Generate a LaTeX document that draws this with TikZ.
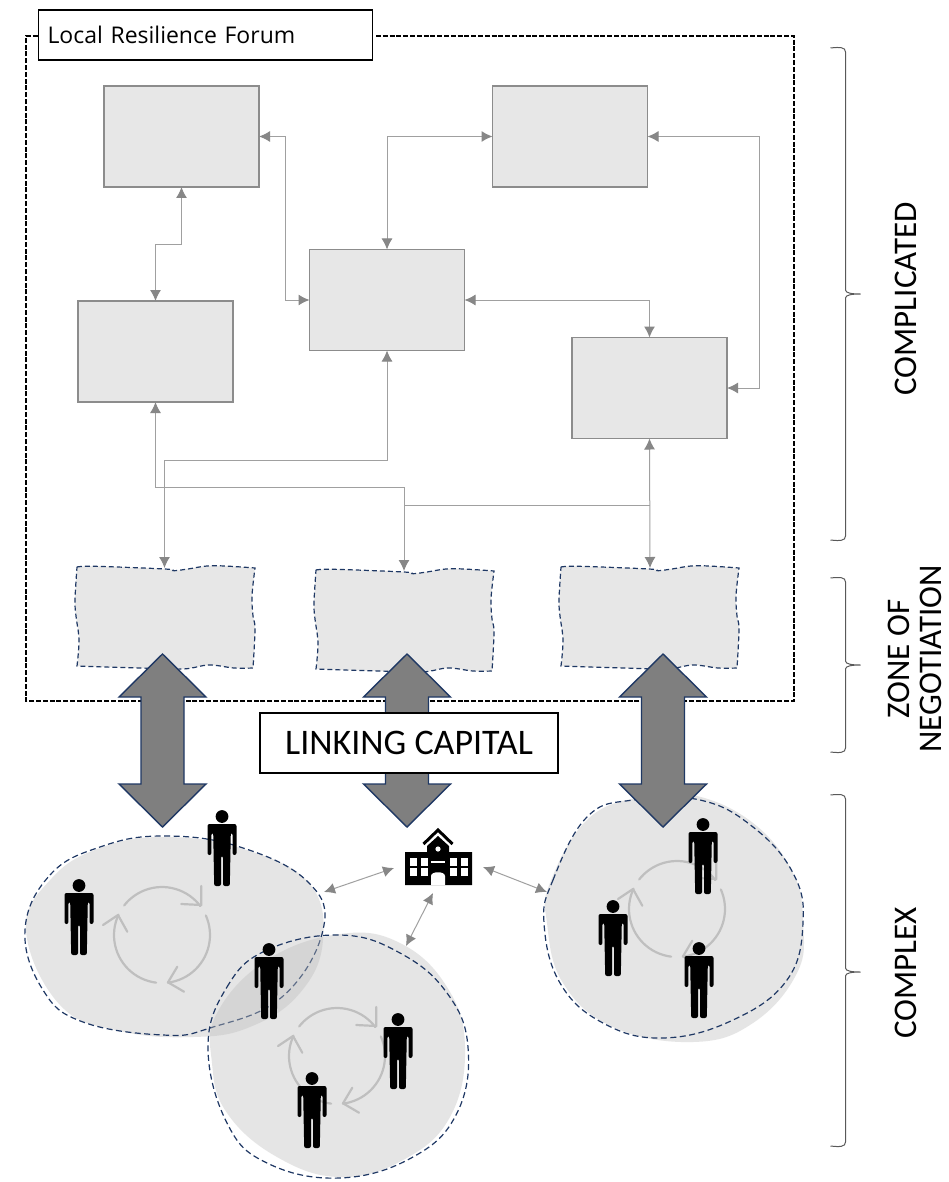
\documentclass[tikz,border=0pt]{standalone}
\usepackage{fontspec}
\setmainfont{Carlito}
\newfontfamily\lrffont{Open Sans}
\usetikzlibrary{arrows.meta}
\definecolor{boxfill}{HTML}{E7E7E7}
\definecolor{boxedge}{HTML}{8C8C8C}
\definecolor{navy}{HTML}{1F3864}
\definecolor{linegray}{HTML}{A0A0A0}
\definecolor{tipgray}{HTML}{878787}
\definecolor{bigarrow}{HTML}{7F7F7F}
\definecolor{cyclegray}{HTML}{BFBFBF}
\definecolor{braceline}{HTML}{595959}
\tikzset{
  x=1pt,y=-1pt,
  stagebox/.style={draw=boxedge,fill=boxfill,line width=1.5pt,inner sep=0pt,outer sep=0pt,minimum width=155pt,minimum height=101pt},
  ghost/.style={inner sep=0pt,outer sep=0pt,minimum width=178pt,minimum height=100pt},
  conn/.style={draw=linegray,line width=1pt,{Latex[length=11pt,width=11pt,color=tipgray]}-{Latex[length=11pt,width=11pt,color=tipgray]}},
  plain/.style={draw=linegray,line width=1pt},
  bluedash/.style={draw=navy,line width=1.2pt,dash pattern=on 6pt off 3.5pt},
  blobfill/.style={fill=cyclegray,fill opacity=.4},
  cyc/.style={draw=cyclegray,line width=2.2pt,line cap=round,line join=round},
  framedash/.style={draw=black,line width=1.2pt,dash pattern=on 5pt off 1.8pt},
  bracestyle/.style={draw=braceline,line width=1pt},
  person/.pic={
    \fill[black] (0,6.5) circle (6.4pt);
    \fill[black,rounded corners=2pt] (-14.5,14) -- (14.5,14) -- (14.5,45) -- (10.6,45) -- (10.6,23)
      -- (8.8,23) -- (7.8,76) -- (1,76) -- (1,46) -- (-1,46) -- (-1,76) -- (-7.8,76) -- (-8.8,23)
      -- (-10.6,23) -- (-10.6,45) -- (-14.5,45) -- cycle;
  },
  cycle arrows/.pic={
    \draw[cyc] plot[smooth,domain=142:37,samples=24] ({48*cos(\x)},{-48*sin(\x)});
    \draw[cyc] (39.3,-49) -- (39.3,-30) -- (19.3,-31);
    \draw[cyc] plot[smooth,domain=24:-83,samples=24] ({48*cos(\x)},{-48*sin(\x)});
    \draw[cyc] (22,56.7) -- (6,47.3) -- (15.3,31.7);
    \draw[cyc] plot[smooth,domain=-97:-205,samples=24] ({48*cos(\x)},{-48*sin(\x)});
    \draw[cyc] (-59,-10) -- (-44,-20) -- (-34.7,-3.3);
  },
  wave/.pic={
    \path[fill=boxfill] plot[smooth,tension=.6] coordinates {(0,0) (18,-.7) (88,2) (97,3.7) (111,2) (136,-1.3) (178,1)}
      -- plot[smooth,tension=.6] coordinates {(178,1) (175,29) (176,49) (178,62) (176,101)}
      -- plot[smooth,tension=.6] coordinates {(176,101) (157,101) (132,98) (106,102) (64,101) (28,100) (0,99)}
      -- plot[smooth,tension=.6] coordinates {(0,99) (2,73) (-1,49) (-2,33) (0,0)} -- cycle;
    \draw[bluedash,dash pattern=on 5pt off 3pt] plot[smooth,tension=.6] coordinates {(0,0) (18,-.7) (88,2) (97,3.7) (111,2) (136,-1.3) (178,1)}
      -- plot[smooth,tension=.6] coordinates {(178,1) (175,29) (176,49) (178,62) (176,101)}
      -- plot[smooth,tension=.6] coordinates {(176,101) (157,101) (132,98) (106,102) (64,101) (28,100) (0,99)}
      -- plot[smooth,tension=.6] coordinates {(0,99) (2,73) (-1,49) (-2,33) (0,0)};
  },
  big double/.pic={
    \draw[fill=bigarrow,draw=navy,line width=1.4pt,line join=miter] (0,0) -- (43.5,43) -- (21.5,43) -- (21.5,130) -- (43.5,130)
      -- (0,173) -- (-43.5,130) -- (-21.5,130) -- (-21.5,43) -- (-43.5,43) -- cycle;
  },
  curly/.pic={
    \draw[bracestyle] (-15,0) .. controls (-6,-1) and (0,-1) .. (0,4) -- (0,\pgfkeysvalueof{/tikz/bh}-4)
      .. controls (0,\pgfkeysvalueof{/tikz/bh}-1) and (6,\pgfkeysvalueof{/tikz/bh}) .. (15,\pgfkeysvalueof{/tikz/bh})
      .. controls (6,\pgfkeysvalueof{/tikz/bh}) and (0,\pgfkeysvalueof{/tikz/bh}+1) .. (0,\pgfkeysvalueof{/tikz/bh}+4)
      -- (0,\pgfkeysvalueof{/tikz/bt}-4) .. controls (0,\pgfkeysvalueof{/tikz/bt}+1) and (-6,\pgfkeysvalueof{/tikz/bt}+1) .. (-15,\pgfkeysvalueof{/tikz/bt});
  },
  bh/.initial=100,bt/.initial=200
}
\begin{document}
\begin{tikzpicture}
\useasboundingbox (0,0) rectangle (948,1182);
\fill[white] (0,0) rectangle (948,1182);

% outer dashed frame
\draw[framedash] (376,36) -- (794,36) -- (794,701) -- (26,701) -- (26,36) -- (38,36);

% process boxes
\node[stagebox] (A) at (181.5,136.5) {};
\node[stagebox] (B) at (570,136.5) {};
\node[stagebox] (C) at (387,300) {};
\node[stagebox] (D) at (155.5,351.5) {};
\node[stagebox] (E) at (649.5,388) {};

% negotiation zones
\pic at (77,567) {wave};
\pic at (316,570) {wave};
\pic at (561,567) {wave};
\node[ghost] (Z1) at (164.5,618) {};
\node[ghost] (Z2) at (404,621) {};
\node[ghost] (Z3) at (650,618) {};

% connectors
\draw[conn] (A.south) -- (181.5,245) -- (155.5,245) -- (D.north);
\draw[conn] (A.east) -- (285,136.5) -- (285,300) -- (C.west);
\draw[conn] (C.north) -- (387,136.5) -- (B.west);
\draw[conn] (B.east) -- (759,136.5) -- (759,388) -- (E.east);
\draw[conn] (C.east) -- (649.5,300) -- (E.north);
\draw[conn] (C.south) -- (387,460) -- (164.5,460) -- (Z1.north);
\draw[conn] (D.south) -- (155.5,487) -- (404,487) -- (Z2.north);
\draw[conn] (E.south) -- (Z3.north);
\coordinate (branchL) at (404,505);
\coordinate (branchR) at (649.5,505);
\draw[plain] (branchL) -- (branchR);

% community blobs
\path[blobfill] plot[smooth cycle,tension=.7] coordinates {(26,930) (52,878) (100,848) (163,837) (240,848) (308,882) (323,940) (300,993) (250,1027) (193,1037) (120,1031) (60,1005)};
\draw[bluedash] plot[smooth cycle,tension=.7] coordinates {(25,930) (50,875) (100,847) (163,836) (240,847) (308,882) (323,930) (282,997) (210,1028) (163,1035) (83,1022) (43,990)};
\path[blobfill] plot[smooth cycle,tension=.7] coordinates {(465,1047) (450,1117) (403,1160) (340,1177) (277,1157) (227,1113) (212,1063) (217,1013) (267,960) (340,934) (400,943) (447,987)};
\draw[bluedash] plot[smooth cycle,tension=.7] coordinates {(208,1047) (227,987) (267,950) (340,935) (400,953) (447,993) (468,1047) (457,1113) (413,1157) (340,1178) (267,1163) (227,1123)};
\path[blobfill] plot[smooth cycle,tension=.7] coordinates {(693,1042) (753,1023) (797,973) (803,923) (793,873) (753,823) (693,795) (640,797) (587,820) (550,883) (547,923) (563,983) (613,1027)};
\draw[bluedash] plot[smooth cycle,tension=.7] coordinates {(544,923) (553,880) (587,817) (633,800) (700,800) (753,827) (793,873) (803,923) (787,980) (733,1020) (663,1038) (603,1023) (560,983)};

\pic at (162,935) {cycle arrows};
\pic at (337,1056) {cycle arrows};
\pic at (677,909) {cycle arrows};

% big double arrows
\pic at (162.5,654) {big double};
\pic at (407,654) {big double};
\pic at (663,654) {big double};

% labels in boxes
\node[draw=black,fill=white,line width=1.6pt,inner sep=0pt,outer sep=0pt,minimum width=334pt,minimum height=50pt,anchor=west,
      font=\lrffont\fontsize{23}{27}\selectfont,text width=318pt,align=left] (lrf) at (38.5,35) {\hspace*{1pt}Local Resilience Forum};
\node[draw=black,fill=white,line width=1.6pt,inner sep=0pt,outer sep=0pt,minimum width=298pt,minimum height=60pt,
      font=\fontsize{36}{40}\selectfont] (link) at (409,743) {LINKING CAPITAL};

% people
\pic at (79,879) {person};
\pic at (222,810) {person};
\pic at (269,943) {person};
\pic at (398,1013) {person};
\pic at (312,1072) {person};
\pic at (703,818) {person};
\pic at (613,900) {person};
\pic at (699,942) {person};

% school icon
\draw[black,line width=3pt,line join=miter] (423.5,844) -- (438,830) -- (452.5,844);
\fill[black] (438,836) -- (449,846) -- (449,852) -- (472,852) -- (472,885) -- (405,885) -- (405,852) -- (427,852) -- (427,846) -- cycle;
\foreach \wx in {410,421,449.5,461}{
  \foreach \wy in {858,868}{
    \fill[white] (\wx,\wy) rectangle ++(7.3,8);
  }
}
\fill[white] (431,861) rectangle (445,863);
\fill[white] (438,849) circle (2.6pt);
\fill[white] (431,885) -- (431,876) .. controls (431,871) and (445,871) .. (445,876) -- (445,885) -- cycle;

% links around the school
\coordinate (s1a) at (324,892); \coordinate (s1b) at (394,868);
\coordinate (s2a) at (406,946); \coordinate (s2b) at (433,893);
\coordinate (s3a) at (547,892); \coordinate (s3b) at (483,867);
\draw[conn] (s1a) -- (s1b);
\draw[conn] (s2a) -- (s2b);
\draw[conn] (s3a) -- (s3b);

% braces
\tikzset{bh=246,bt=492}
\pic at (845.5,48) {curly};
\tikzset{bh=87,bt=174}
\pic at (845.5,578) {curly};
\tikzset{bh=177,bt=351}
\pic at (845.5,795) {curly};

% side labels
\node[rotate=90,font=\fontsize{33}{36}\selectfont,inner sep=0pt] (lc) at (906,299) {COMPLICATED};
\node[rotate=90,font=\fontsize{33}{36}\selectfont,inner sep=0pt] (lz) at (899,659) {ZONE OF};
\node[rotate=90,font=\fontsize{33}{36}\selectfont,inner sep=0pt] (ln) at (931,659) {NEGOTIATION};
\node[rotate=90,font=\fontsize{33}{36}\selectfont,inner sep=0pt] (lx) at (906,973) {COMPLEX};
\end{tikzpicture}
\end{document}
